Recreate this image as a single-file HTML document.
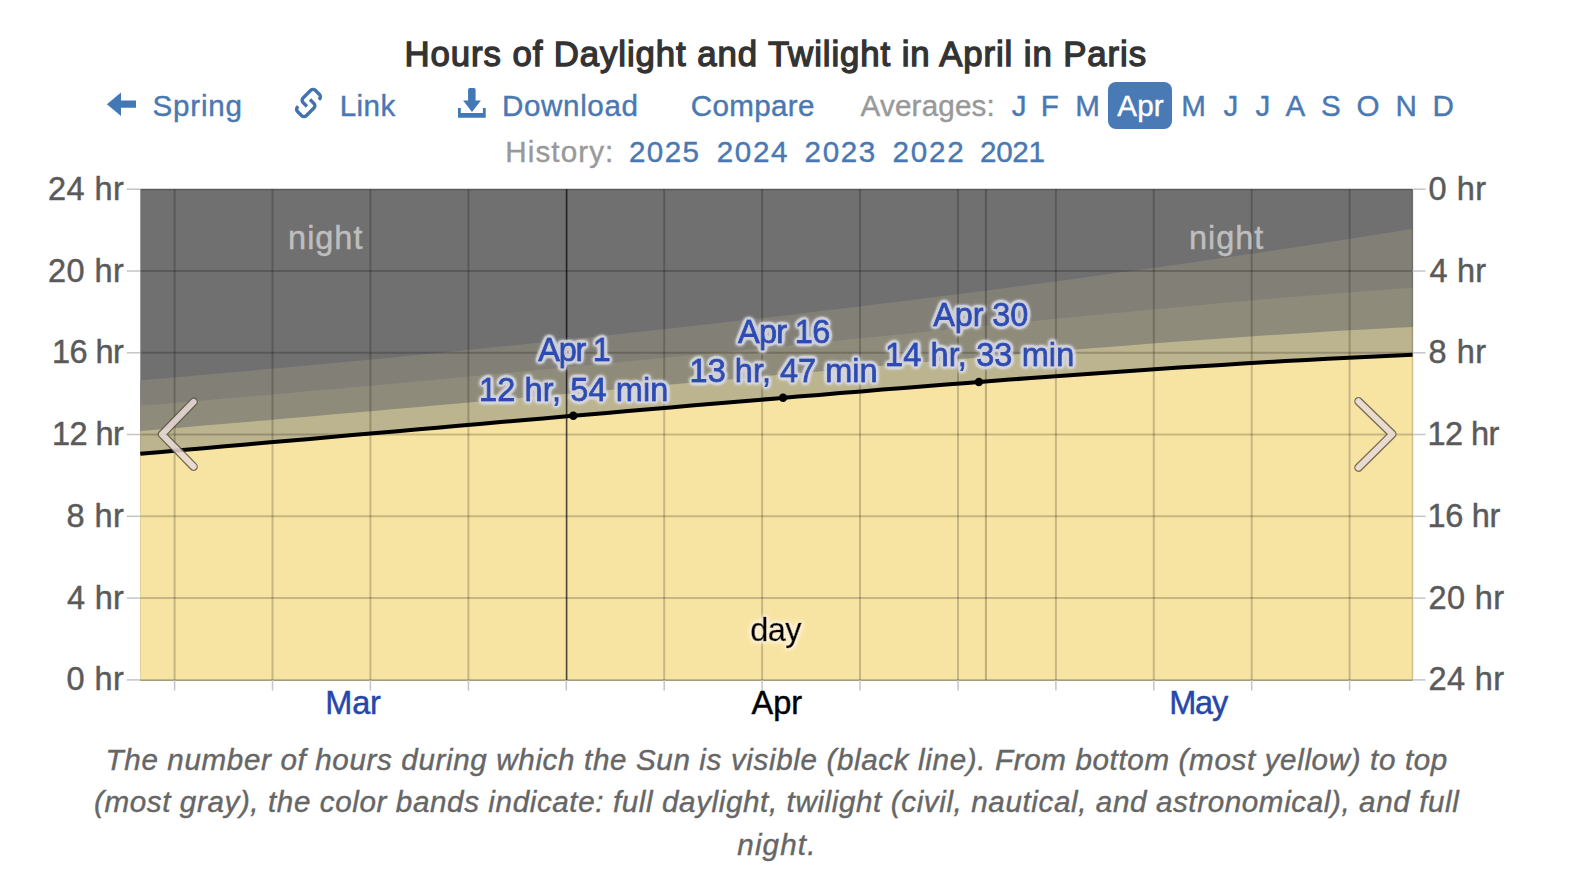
<!DOCTYPE html>
<html lang="en"><head><meta charset="utf-8"><title>Hours of Daylight and Twilight in April in Paris</title>
<style>
html,body{margin:0;padding:0;background:#fff;}
header,nav,figure,figcaption{display:block;margin:0;padding:0;position:static;}
body{width:1594px;height:896px;position:relative;overflow:hidden;font-family:"Liberation Sans",sans-serif;}
.t{position:absolute;white-space:nowrap;margin:0;padding:0;font-weight:400;text-decoration:none;display:block;-webkit-text-stroke:0.4px currentColor;}
svg{position:absolute;left:0;top:0;}
svg text{font-family:"Liberation Sans",sans-serif;}
.pill{position:absolute;left:1108px;top:82px;width:64px;height:46.6px;border-radius:8px;background:#4a7ab6;}
</style></head><body>
<header>
<h2 class="t" style="left:404.60px;top:31.20px;font-size:34.8px;line-height:45px;letter-spacing:0.893px;color:#333333;-webkit-text-stroke:1.3px #333333;">Hours of Daylight and Twilight in April in Paris</h2>
<nav>
<div class="pill"></div>
<svg class="icons" width="1594" height="180" viewBox="0 0 1594 180">
<path d="M106.9 104.3 L121 92.5 L121 100.6 L136 100.6 L136 107.8 L121 107.8 L121 116 Z" fill="#4278b6"/>
<g transform="translate(308.5 103) rotate(-45) scale(1.07)" fill="none" stroke="#4373af" stroke-width="3.15" stroke-linecap="butt">
<path d="M-3.3 1.3 L-3.3 -3.9 A3 3 0 0 1 -0.3 -6.9 L9.9 -6.9 A3 3 0 0 1 12.9 -3.9 L12.9 1.6 A3 3 0 0 1 9.9 4.6 L9.0 4.6"/>
<path d="M3.3 -1.3 L3.3 3.9 A3 3 0 0 1 0.3 6.9 L-9.9 6.9 A3 3 0 0 1 -12.9 3.9 L-12.9 -1.6 A3 3 0 0 1 -9.9 -4.6 L-9.0 -4.6"/>
</g>
<path d="M468.1 89.5 Q468.1 88 469.6 88 L474.1 88 Q475.6 88 475.6 89.5 L475.6 100.6 L480.9 100.6 L472 111.9 L463.1 100.6 L468.1 100.6 Z" fill="#4278b6"/>
<path d="M458 108.1 L460.8 108.1 L460.8 113.1 L482.9 113.1 L482.9 108.1 L485.7 108.1 L485.7 117.7 L458 117.7 Z" fill="#4278b6"/>
</svg>
<a href="#" class="t" style="left:152.50px;top:86.70px;font-size:29.6px;line-height:38px;letter-spacing:0.803px;color:#4a78b2;">Spring</a>
<a href="#" class="t" style="left:339.70px;top:86.70px;font-size:29.6px;line-height:38px;letter-spacing:0.403px;color:#4a78b2;">Link</a>
<a href="#" class="t" style="left:502.00px;top:86.70px;font-size:29.6px;line-height:38px;letter-spacing:0.621px;color:#4a78b2;">Download</a>
<a href="#" class="t" style="left:690.70px;top:86.70px;font-size:29.6px;line-height:38px;letter-spacing:0.324px;color:#4a78b2;">Compare</a>
<span class="t" style="left:860.60px;top:86.70px;font-size:29.6px;line-height:38px;letter-spacing:0.189px;color:#999999;">Averages:</span>
<a href="#" class="t" style="left:1011.70px;top:86.70px;font-size:29.6px;line-height:38px;letter-spacing:0.000px;color:#4a78b2;">J</a>
<a href="#" class="t" style="left:1040.70px;top:86.70px;font-size:29.6px;line-height:38px;letter-spacing:0.000px;color:#4a78b2;">F</a>
<a href="#" class="t" style="left:1075.30px;top:86.70px;font-size:29.6px;line-height:38px;letter-spacing:0.000px;color:#4a78b2;">M</a>
<a href="#" class="t" style="left:1181.15px;top:86.70px;font-size:29.6px;line-height:38px;letter-spacing:0.000px;color:#4a78b2;">M</a>
<a href="#" class="t" style="left:1223.50px;top:86.70px;font-size:29.6px;line-height:38px;letter-spacing:0.000px;color:#4a78b2;">J</a>
<a href="#" class="t" style="left:1255.55px;top:86.70px;font-size:29.6px;line-height:38px;letter-spacing:0.000px;color:#4a78b2;">J</a>
<a href="#" class="t" style="left:1285.60px;top:86.70px;font-size:29.6px;line-height:38px;letter-spacing:0.000px;color:#4a78b2;">A</a>
<a href="#" class="t" style="left:1321.00px;top:86.70px;font-size:29.6px;line-height:38px;letter-spacing:0.000px;color:#4a78b2;">S</a>
<a href="#" class="t" style="left:1356.50px;top:86.70px;font-size:29.6px;line-height:38px;letter-spacing:0.000px;color:#4a78b2;">O</a>
<a href="#" class="t" style="left:1395.40px;top:86.70px;font-size:29.6px;line-height:38px;letter-spacing:0.000px;color:#4a78b2;">N</a>
<a href="#" class="t" style="left:1432.55px;top:86.70px;font-size:29.6px;line-height:38px;letter-spacing:0.000px;color:#4a78b2;">D</a>
<a href="#" class="t" style="left:1117.30px;top:86.70px;font-size:29.6px;line-height:38px;letter-spacing:0.101px;color:#ffffff;">Apr</a>
<span class="t" style="left:505.30px;top:132.80px;font-size:29.6px;line-height:38px;letter-spacing:1.103px;color:#999999;">History:</span>
<a href="#" class="t" style="left:629.00px;top:132.80px;font-size:29.6px;line-height:38px;letter-spacing:1.375px;color:#4a78b2;">2025</a>
<a href="#" class="t" style="left:716.80px;top:132.80px;font-size:29.6px;line-height:38px;letter-spacing:1.608px;color:#4a78b2;">2024</a>
<a href="#" class="t" style="left:804.60px;top:132.80px;font-size:29.6px;line-height:38px;letter-spacing:1.608px;color:#4a78b2;">2023</a>
<a href="#" class="t" style="left:892.50px;top:132.80px;font-size:29.6px;line-height:38px;letter-spacing:1.775px;color:#4a78b2;">2022</a>
<a href="#" class="t" style="left:980.00px;top:132.80px;font-size:29.6px;line-height:38px;letter-spacing:-0.292px;color:#4a78b2;">2021</a>
</nav>
</header>
<figure>
<svg class="chart" width="1594" height="896" viewBox="0 0 1594 896">
<filter id="hl" x="-10%" y="-30%" width="120%" height="160%"><feGaussianBlur in="SourceAlpha" stdDeviation="1.9" result="b0"/><feComponentTransfer in="b0" result="b"><feFuncA type="linear" slope="7" intercept="0"/></feComponentTransfer><feFlood flood-color="#d6d8e2" flood-opacity="0.9"/><feComposite in2="b" operator="in" result="h"/><feMerge><feMergeNode in="h"/><feMergeNode in="SourceGraphic"/></feMerge></filter>
<filter id="hd" x="-20%" y="-30%" width="140%" height="160%"><feGaussianBlur in="SourceAlpha" stdDeviation="2.4" result="b0"/><feComponentTransfer in="b0" result="b"><feFuncA type="linear" slope="4" intercept="0"/></feComponentTransfer><feFlood flood-color="#fff4dc" flood-opacity="0.75"/><feComposite in2="b" operator="in" result="h"/><feMerge><feMergeNode in="h"/><feMergeNode in="SourceGraphic"/></feMerge></filter>
<rect x="140.3" y="189.0" width="1272.6" height="491.5" fill="#707070"/>
<path d="M140.3 680.5 L140.3 380.3 L161.5 378.5 L182.7 376.7 L203.9 374.8 L225.1 373.0 L246.3 371.1 L267.5 369.1 L288.7 367.2 L309.9 365.2 L331.1 363.3 L352.4 361.3 L373.6 359.2 L394.8 357.2 L416.0 355.1 L437.2 353.0 L458.4 350.9 L479.6 348.8 L500.8 346.6 L522.0 344.4 L543.2 342.2 L564.4 340.0 L585.6 337.7 L606.8 335.4 L628.0 333.1 L649.2 330.8 L670.4 328.5 L691.6 326.1 L712.8 323.7 L734.0 321.3 L755.2 318.8 L776.5 316.4 L797.7 313.9 L818.9 311.3 L840.1 308.8 L861.3 306.2 L882.5 303.6 L903.7 301.0 L924.9 298.3 L946.1 295.6 L967.3 292.9 L988.5 290.2 L1009.7 287.4 L1030.9 284.6 L1052.1 281.8 L1073.3 278.9 L1094.5 276.1 L1115.7 273.1 L1136.9 270.2 L1158.1 267.2 L1179.3 264.2 L1200.5 261.2 L1221.8 258.1 L1243.0 255.0 L1264.2 251.9 L1285.4 248.7 L1306.6 245.5 L1327.8 242.3 L1349.0 239.0 L1370.2 235.6 L1391.4 232.2 L1412.6 228.7 L1412.9 228.7 L1412.9 680.5 Z" fill="#827f76"/>
<path d="M140.3 680.5 L140.3 405.8 L161.5 404.0 L182.7 402.2 L203.9 400.4 L225.1 398.6 L246.3 396.7 L267.5 394.9 L288.7 393.0 L309.9 391.1 L331.1 389.2 L352.4 387.3 L373.6 385.4 L394.8 383.4 L416.0 381.5 L437.2 379.5 L458.4 377.5 L479.6 375.5 L500.8 373.5 L522.0 371.5 L543.2 369.5 L564.4 367.5 L585.6 365.4 L606.8 363.4 L628.0 361.3 L649.2 359.3 L670.4 357.2 L691.6 355.1 L712.8 353.0 L734.0 350.9 L755.2 348.8 L776.5 346.7 L797.7 344.6 L818.9 342.5 L840.1 340.3 L861.3 338.2 L882.5 336.1 L903.7 333.9 L924.9 331.8 L946.1 329.7 L967.3 327.6 L988.5 325.4 L1009.7 323.3 L1030.9 321.2 L1052.1 319.1 L1073.3 317.1 L1094.5 315.0 L1115.7 312.9 L1136.9 310.9 L1158.1 308.9 L1179.3 306.9 L1200.5 305.0 L1221.8 303.0 L1243.0 301.2 L1264.2 299.3 L1285.4 297.5 L1306.6 295.7 L1327.8 294.0 L1349.0 292.4 L1370.2 290.8 L1391.4 289.3 L1412.6 287.8 L1412.9 287.8 L1412.9 680.5 Z" fill="#8f8b7a"/>
<path d="M140.3 680.5 L140.3 431.0 L161.5 429.2 L182.7 427.4 L203.9 425.6 L225.1 423.8 L246.3 422.0 L267.5 420.2 L288.7 418.3 L309.9 416.5 L331.1 414.6 L352.4 412.8 L373.6 410.9 L394.8 409.1 L416.0 407.2 L437.2 405.3 L458.4 403.5 L479.6 401.6 L500.8 399.7 L522.0 397.8 L543.2 395.9 L564.4 394.0 L585.6 392.1 L606.8 390.2 L628.0 388.3 L649.2 386.4 L670.4 384.6 L691.6 382.7 L712.8 380.8 L734.0 378.9 L755.2 377.0 L776.5 375.1 L797.7 373.2 L818.9 371.4 L840.1 369.5 L861.3 367.6 L882.5 365.8 L903.7 364.0 L924.9 362.1 L946.1 360.3 L967.3 358.5 L988.5 356.7 L1009.7 354.9 L1030.9 353.2 L1052.1 351.4 L1073.3 349.7 L1094.5 348.0 L1115.7 346.4 L1136.9 344.7 L1158.1 343.1 L1179.3 341.5 L1200.5 340.0 L1221.8 338.5 L1243.0 337.0 L1264.2 335.6 L1285.4 334.2 L1306.6 332.9 L1327.8 331.6 L1349.0 330.3 L1370.2 329.2 L1391.4 328.0 L1412.6 327.0 L1412.9 327.0 L1412.9 680.5 Z" fill="#bcb48e"/>
<path d="M140.3 680.5 L140.3 453.7 L161.5 451.9 L182.7 450.0 L203.9 448.2 L225.1 446.3 L246.3 444.4 L267.5 442.6 L288.7 440.7 L309.9 438.9 L331.1 437.0 L352.4 435.1 L373.6 433.3 L394.8 431.4 L416.0 429.5 L437.2 427.7 L458.4 425.8 L479.6 424.0 L500.8 422.1 L522.0 420.2 L543.2 418.4 L564.4 416.6 L585.6 414.7 L606.8 412.9 L628.0 411.0 L649.2 409.2 L670.4 407.4 L691.6 405.6 L712.8 403.8 L734.0 402.0 L755.2 400.2 L776.5 398.4 L797.7 396.6 L818.9 394.9 L840.1 393.1 L861.3 391.4 L882.5 389.6 L903.7 387.9 L924.9 386.2 L946.1 384.6 L967.3 382.9 L988.5 381.3 L1009.7 379.6 L1030.9 378.0 L1052.1 376.5 L1073.3 374.9 L1094.5 373.4 L1115.7 371.9 L1136.9 370.4 L1158.1 369.0 L1179.3 367.6 L1200.5 366.2 L1221.8 364.9 L1243.0 363.6 L1264.2 362.3 L1285.4 361.1 L1306.6 360.0 L1327.8 358.8 L1349.0 357.8 L1370.2 356.7 L1391.4 355.8 L1412.6 354.8 L1412.9 354.8 L1412.9 680.5 Z" fill="#f8e4a2"/>
<g stroke="rgba(0,0,0,0.2)" stroke-width="2"><line x1="140.3" y1="189.2" x2="1412.6" y2="189.2"/><line x1="140.3" y1="271.0" x2="1412.6" y2="271.0"/><line x1="140.3" y1="352.8" x2="1412.6" y2="352.8"/><line x1="140.3" y1="434.5" x2="1412.6" y2="434.5"/><line x1="140.3" y1="516.3" x2="1412.6" y2="516.3"/><line x1="140.3" y1="598.1" x2="1412.6" y2="598.1"/><line x1="140.3" y1="679.9" x2="1412.6" y2="679.9"/><line x1="174.6" y1="189.2" x2="174.6" y2="679.9"/><line x1="272.5" y1="189.2" x2="272.5" y2="679.9"/><line x1="370.4" y1="189.2" x2="370.4" y2="679.9"/><line x1="468.4" y1="189.2" x2="468.4" y2="679.9"/><line x1="664.2" y1="189.2" x2="664.2" y2="679.9"/><line x1="762.1" y1="189.2" x2="762.1" y2="679.9"/><line x1="860.0" y1="189.2" x2="860.0" y2="679.9"/><line x1="958.0" y1="189.2" x2="958.0" y2="679.9"/><line x1="1055.9" y1="189.2" x2="1055.9" y2="679.9"/><line x1="1153.8" y1="189.2" x2="1153.8" y2="679.9"/><line x1="1251.7" y1="189.2" x2="1251.7" y2="679.9"/><line x1="1349.6" y1="189.2" x2="1349.6" y2="679.9"/><line x1="985.9" y1="189.2" x2="985.9" y2="679.9" stroke="rgba(0,0,0,0.24)"/><line x1="1412.6" y1="189.2" x2="1412.6" y2="679.9" stroke-opacity="0.6"/></g>
<line x1="566.6" y1="189.2" x2="566.6" y2="679.9" stroke="rgba(0,0,0,0.7)" stroke-width="1.6"/>
<g stroke="#c4c4c8" stroke-width="1.5"><line x1="126.8" y1="189.2" x2="140.3" y2="189.2"/><line x1="1412.6" y1="189.2" x2="1425.6" y2="189.2"/><line x1="126.8" y1="271.0" x2="140.3" y2="271.0"/><line x1="1412.6" y1="271.0" x2="1425.6" y2="271.0"/><line x1="126.8" y1="352.8" x2="140.3" y2="352.8"/><line x1="1412.6" y1="352.8" x2="1425.6" y2="352.8"/><line x1="126.8" y1="434.5" x2="140.3" y2="434.5"/><line x1="1412.6" y1="434.5" x2="1425.6" y2="434.5"/><line x1="126.8" y1="516.3" x2="140.3" y2="516.3"/><line x1="1412.6" y1="516.3" x2="1425.6" y2="516.3"/><line x1="126.8" y1="598.1" x2="140.3" y2="598.1"/><line x1="1412.6" y1="598.1" x2="1425.6" y2="598.1"/><line x1="126.8" y1="679.9" x2="140.3" y2="679.9"/><line x1="1412.6" y1="679.9" x2="1425.6" y2="679.9"/><line x1="174.6" y1="679.9" x2="174.6" y2="690.5"/><line x1="272.5" y1="679.9" x2="272.5" y2="690.5"/><line x1="370.4" y1="679.9" x2="370.4" y2="690.5"/><line x1="468.4" y1="679.9" x2="468.4" y2="690.5"/><line x1="566.3" y1="679.9" x2="566.3" y2="690.5"/><line x1="664.2" y1="679.9" x2="664.2" y2="690.5"/><line x1="762.1" y1="679.9" x2="762.1" y2="690.5"/><line x1="860.0" y1="679.9" x2="860.0" y2="690.5"/><line x1="958.0" y1="679.9" x2="958.0" y2="690.5"/><line x1="1055.9" y1="679.9" x2="1055.9" y2="690.5"/><line x1="1153.8" y1="679.9" x2="1153.8" y2="690.5"/><line x1="1251.7" y1="679.9" x2="1251.7" y2="690.5"/><line x1="1349.6" y1="679.9" x2="1349.6" y2="690.5"/></g>
<path d="M140.3 453.7 L161.5 451.9 L182.7 450.0 L203.9 448.2 L225.1 446.3 L246.3 444.4 L267.5 442.6 L288.7 440.7 L309.9 438.9 L331.1 437.0 L352.4 435.1 L373.6 433.3 L394.8 431.4 L416.0 429.5 L437.2 427.7 L458.4 425.8 L479.6 424.0 L500.8 422.1 L522.0 420.2 L543.2 418.4 L564.4 416.6 L585.6 414.7 L606.8 412.9 L628.0 411.0 L649.2 409.2 L670.4 407.4 L691.6 405.6 L712.8 403.8 L734.0 402.0 L755.2 400.2 L776.5 398.4 L797.7 396.6 L818.9 394.9 L840.1 393.1 L861.3 391.4 L882.5 389.6 L903.7 387.9 L924.9 386.2 L946.1 384.6 L967.3 382.9 L988.5 381.3 L1009.7 379.6 L1030.9 378.0 L1052.1 376.5 L1073.3 374.9 L1094.5 373.4 L1115.7 371.9 L1136.9 370.4 L1158.1 369.0 L1179.3 367.6 L1200.5 366.2 L1221.8 364.9 L1243.0 363.6 L1264.2 362.3 L1285.4 361.1 L1306.6 360.0 L1327.8 358.8 L1349.0 357.8 L1370.2 356.7 L1391.4 355.8 L1412.6 354.8" fill="none" stroke="#000" stroke-width="4"/>
<circle cx="573.3" cy="415.8" r="4.2" fill="#000"/>
<circle cx="783.1" cy="397.8" r="4.2" fill="#000"/>
<circle cx="978.9" cy="382.0" r="4.2" fill="#000"/>
<g opacity="0.86"><path d="M193.6 401.9 L162.0 434.3 L193.6 466.7" fill="none" stroke="#5f5942" stroke-width="8.6" stroke-linecap="round" stroke-linejoin="round"/><path d="M193.6 401.9 L162.0 434.3 L193.6 466.7" fill="none" stroke="#e8d9d8" stroke-width="6" stroke-linecap="round" stroke-linejoin="round"/></g>
<g opacity="0.86"><path d="M1358.5 401.3 L1392.3 434.2 L1358.5 467.6" fill="none" stroke="#5f5942" stroke-width="8.6" stroke-linecap="round" stroke-linejoin="round"/><path d="M1358.5 401.3 L1392.3 434.2 L1358.5 467.6" fill="none" stroke="#e8d9d8" stroke-width="6" stroke-linecap="round" stroke-linejoin="round"/></g>
<text x="48.10" y="199.7" fill="#5a5a5a" stroke="#5a5a5a" stroke-width="0.45" style="font-size:32.5px;letter-spacing:0.411px;">24 hr</text>
<text x="48.10" y="281.5" fill="#5a5a5a" stroke="#5a5a5a" stroke-width="0.45" style="font-size:32.5px;letter-spacing:0.411px;">20 hr</text>
<text x="52.00" y="363.3" fill="#5a5a5a" stroke="#5a5a5a" stroke-width="0.45" style="font-size:32.5px;letter-spacing:-0.564px;">16 hr</text>
<text x="52.00" y="445.0" fill="#5a5a5a" stroke="#5a5a5a" stroke-width="0.45" style="font-size:32.5px;letter-spacing:-0.564px;">12 hr</text>
<text x="66.50" y="526.8" fill="#5a5a5a" stroke="#5a5a5a" stroke-width="0.45" style="font-size:32.5px;letter-spacing:0.440px;">8 hr</text>
<text x="67.00" y="608.6" fill="#5a5a5a" stroke="#5a5a5a" stroke-width="0.45" style="font-size:32.5px;letter-spacing:0.274px;">4 hr</text>
<text x="66.50" y="690.4" fill="#5a5a5a" stroke="#5a5a5a" stroke-width="0.45" style="font-size:32.5px;letter-spacing:0.440px;">0 hr</text>
<text x="1428.40" y="199.7" fill="#5a5a5a" stroke="#5a5a5a" stroke-width="0.45" style="font-size:32.5px;letter-spacing:0.574px;">0 hr</text>
<text x="1429.40" y="281.5" fill="#5a5a5a" stroke="#5a5a5a" stroke-width="0.45" style="font-size:32.5px;letter-spacing:0.240px;">4 hr</text>
<text x="1428.40" y="363.3" fill="#5a5a5a" stroke="#5a5a5a" stroke-width="0.45" style="font-size:32.5px;letter-spacing:0.574px;">8 hr</text>
<text x="1427.40" y="445.0" fill="#5a5a5a" stroke="#5a5a5a" stroke-width="0.45" style="font-size:32.5px;letter-spacing:-0.539px;">12 hr</text>
<text x="1427.40" y="526.8" fill="#5a5a5a" stroke="#5a5a5a" stroke-width="0.45" style="font-size:32.5px;letter-spacing:-0.289px;">16 hr</text>
<text x="1428.40" y="608.6" fill="#5a5a5a" stroke="#5a5a5a" stroke-width="0.45" style="font-size:32.5px;letter-spacing:0.411px;">20 hr</text>
<text x="1428.40" y="690.4" fill="#5a5a5a" stroke="#5a5a5a" stroke-width="0.45" style="font-size:32.5px;letter-spacing:0.411px;">24 hr</text>
<text x="325.30" y="713.5" fill="#2546ab" stroke="#2546ab" stroke-width="0.45" style="font-size:32.5px;letter-spacing:-0.224px;">Mar</text>
<text x="751.60" y="713.5" fill="#000000" stroke="#000000" stroke-width="0.45" style="font-size:32.5px;letter-spacing:-0.026px;">Apr</text>
<text x="1169.20" y="713.5" fill="#2546ab" stroke="#2546ab" stroke-width="0.45" style="font-size:32.5px;letter-spacing:-1.224px;">May</text>
<text x="288.10" y="248.7" fill="#bebebe" stroke="#bebebe" stroke-width="0.45" style="font-size:32.5px;letter-spacing:0.964px;">night</text>
<text x="1189.00" y="248.7" fill="#bebebe" stroke="#bebebe" stroke-width="0.45" style="font-size:32.5px;letter-spacing:0.964px;">night</text>
<text x="750.30" y="641.3" fill="#000000" stroke="#000000" stroke-width="0.5" filter="url(#hd)" style="font-size:32.5px;letter-spacing:-0.575px;">day</text>
<text x="538.30" y="360.7" fill="#2a4cb4" stroke="#2a4cb4" stroke-width="0.9" filter="url(#hl)" style="font-size:32.5px;letter-spacing:-1.276px;">Apr 1</text>
<text x="479.00" y="400.6" fill="#2a4cb4" stroke="#2a4cb4" stroke-width="0.9" filter="url(#hl)" style="font-size:32.5px;letter-spacing:0.124px;">12 hr, 54 min</text>
<text x="737.90" y="342.7" fill="#2a4cb4" stroke="#2a4cb4" stroke-width="0.9" filter="url(#hl)" style="font-size:32.5px;letter-spacing:-0.676px;">Apr 16</text>
<text x="689.60" y="382.0" fill="#2a4cb4" stroke="#2a4cb4" stroke-width="0.9" filter="url(#hl)" style="font-size:32.5px;letter-spacing:0.007px;">13 hr, 47 min</text>
<text x="933.30" y="326.4" fill="#2a4cb4" stroke="#2a4cb4" stroke-width="0.9" filter="url(#hl)" style="font-size:32.5px;letter-spacing:-0.156px;">Apr 30</text>
<text x="885.00" y="366.4" fill="#2a4cb4" stroke="#2a4cb4" stroke-width="0.9" filter="url(#hl)" style="font-size:32.5px;letter-spacing:0.115px;">14 hr, 33 min</text>
</svg>
<figcaption>
<span class="t" style="left:105.60px;top:740.70px;font-size:29.6px;line-height:38px;letter-spacing:0.640px;color:#666666;font-style:italic;">The number of hours during which the Sun is visible (black line). From bottom (most yellow) to top</span>
<span class="t" style="left:94.00px;top:783.20px;font-size:29.6px;line-height:38px;letter-spacing:0.611px;color:#666666;font-style:italic;">(most gray), the color bands indicate: full daylight, twilight (civil, nautical, and astronomical), and full</span>
<span class="t" style="left:737.30px;top:825.70px;font-size:29.6px;line-height:38px;letter-spacing:1.145px;color:#666666;font-style:italic;">night.</span>
</figcaption>
</figure>
</body></html>
